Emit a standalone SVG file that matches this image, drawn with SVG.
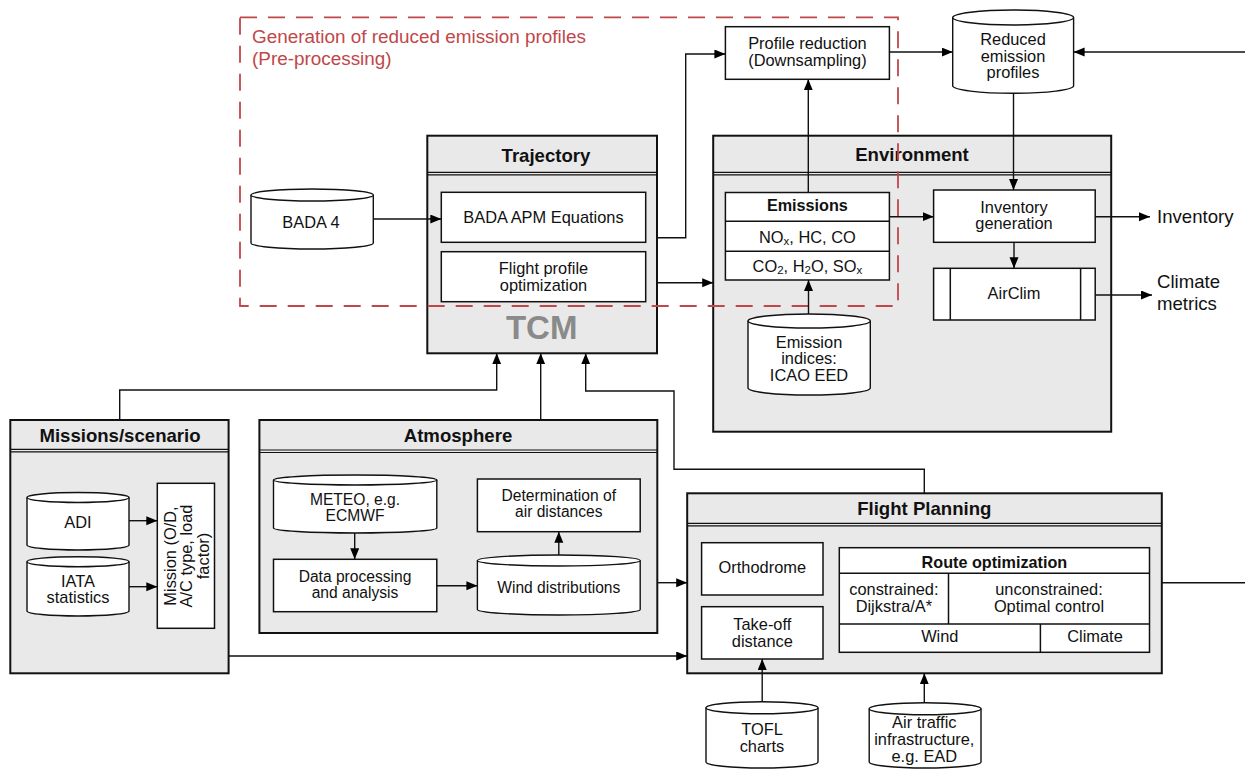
<svg xmlns="http://www.w3.org/2000/svg" width="1245" height="769" viewBox="0 0 1245 769">
<defs>
<marker id="ah" markerUnits="userSpaceOnUse" markerWidth="12" markerHeight="10" refX="11" refY="4.5" orient="auto">
<path d="M0,0 L11,4.5 L0,9 z" fill="#000"/>
</marker>
<style>
text{font-family:"Liberation Sans",Arial,sans-serif;fill:#111}
.t{font-size:16.4px;text-anchor:middle}
.ta{font-size:15.6px;text-anchor:middle}
.tb{font-size:16.2px;font-weight:bold;text-anchor:middle}
.title{font-size:18.6px;font-weight:bold;text-anchor:middle}
.lbl{font-size:18.6px}
.red{font-size:18.9px;fill:#c0474a}
.outer{fill:#e9e9e9;stroke:#111;stroke-width:2}
.hdr{stroke:#111;stroke-width:1.2;fill:none}
.inner{fill:#fff;stroke:#111;stroke-width:1.5}
.cyl{fill:#fff;stroke:#111;stroke-width:1.4}
.con{fill:none;stroke:#111;stroke-width:1.4}
.arr{fill:none;stroke:#111;stroke-width:1.4;marker-end:url(#ah)}
.tcm{font-size:33px;font-weight:bold;fill:#8a8a8a;text-anchor:middle}
</style>
</defs>
<rect width="1245" height="769" fill="#fff"/>

<g id="trajectory">
<rect class="outer" x="427.3" y="135.7" width="229.7" height="217.6"/>
<path class="hdr" d="M427.3,172.3 H657 M427.3,174.8 H657"/>
<text class="title" x="546" y="161.7">Trajectory</text>
<text class="tcm" x="541.7" y="339">TCM</text>
</g>
<g id="bada-apm">
<rect class="inner" x="441.3" y="192.3" width="204.4" height="50"/>
<text class="t" x="543.5" y="222.5">BADA APM Equations</text>
</g>
<g id="flight-profile-opt">
<rect class="inner" x="441.3" y="251.7" width="204.4" height="50"/>
<text class="t" x="543.5" y="274">Flight profile</text>
<text class="t" x="543.5" y="290.5">optimization</text>
</g>

<g id="environment">
<rect class="outer" x="713.2" y="135.7" width="398" height="296"/>
<path class="hdr" d="M713.2,172.3 H1111.2 M713.2,174.8 H1111.2"/>
<text class="title" x="912" y="160.7">Environment</text>
</g>
<g id="emissions">
<rect class="inner" x="725.4" y="192.5" width="164" height="87.5"/>
<path class="hdr" d="M725.4,221.3 H889.4 M725.4,251.3 H889.4" style="stroke-width:1.5"/>
<text class="tb" x="807.4" y="210.7">Emissions</text>
<text class="t" x="807.4" y="242.7">NO<tspan font-size="11.5" dy="2">x</tspan><tspan dy="-2">, HC, CO</tspan></text>
<text class="t" x="807.4" y="271.7">CO<tspan font-size="11.5" dy="2">2</tspan><tspan dy="-2">, H</tspan><tspan font-size="11.5" dy="2">2</tspan><tspan dy="-2">O, SO</tspan><tspan font-size="11.5" dy="2">x</tspan></text>
</g>
<g id="inventory-generation">
<rect class="inner" x="933.6" y="190" width="161.6" height="52.3"/>
<text class="t" x="1014" y="213.3">Inventory</text>
<text class="t" x="1014" y="229.3">generation</text>
</g>
<g id="airclim">
<rect class="inner" x="933.6" y="268.3" width="161.6" height="51.7"/>
<path class="hdr" d="M950.3,268.3 V320 M1080.6,268.3 V320" style="stroke-width:1.5"/>
<text class="t" x="1014" y="299.3">AirClim</text>
</g>
<g id="emission-indices">
<path class="cyl" d="M748,321 V388 A61.15,7 0 0 0 870.3,388 V321"/>
<ellipse class="cyl" cx="809.15" cy="321" rx="61.15" ry="7"/>
<text class="t" x="809" y="348.3">Emission</text>
<text class="t" x="809" y="364">indices:</text>
<text class="t" x="809" y="380.7">ICAO EED</text>
</g>

<g id="profile-reduction">
<rect class="inner" x="725.4" y="26.7" width="164" height="52.6"/>
<text class="t" x="807.4" y="49.3">Profile reduction</text>
<text class="t" x="807.4" y="66">(Downsampling)</text>
</g>
<g id="reduced-profiles">
<path class="cyl" d="M952.7,17.5 V85.8 A60.45,7.5 0 0 0 1073.6,85.8 V17.5"/>
<ellipse class="cyl" cx="1013.15" cy="17.5" rx="60.45" ry="7.5"/>
<text class="t" x="1013" y="45">Reduced</text>
<text class="t" x="1013" y="61.7">emission</text>
<text class="t" x="1013" y="77.7">profiles</text>
</g>
<g id="bada4">
<path class="cyl" d="M251,195 V243 A61.15,6 0 0 0 373.3,243 V195"/>
<ellipse class="cyl" cx="312.15" cy="195" rx="61.15" ry="6"/>
<text class="t" x="311" y="227.7">BADA 4</text>
</g>

<g id="preprocessing">
<rect x="240" y="17.3" width="658" height="288.7" fill="none" stroke="#c0474a" stroke-width="1.8" stroke-dasharray="17 11"/>
<text class="red" x="252" y="43">Generation of reduced emission profiles</text>
<text class="red" x="252" y="65">(Pre-processing)</text>
</g>

<g id="missions">
<rect class="outer" x="10.3" y="420" width="218.3" height="253.3"/>
<path class="hdr" d="M10.3,449.3 H228.6 M10.3,451.8 H228.6"/>
<text class="title" x="120" y="441.7">Missions/scenario</text>
</g>
<g id="adi">
<path class="cyl" d="M27,497.5 V545 A51,5 0 0 0 129,545 V497.5"/>
<ellipse class="cyl" cx="78" cy="497.5" rx="51" ry="5"/>
<text class="t" x="78" y="528.3">ADI</text>
</g>
<g id="iata">
<path class="cyl" d="M27,561.7 V611 A51,5 0 0 0 129,611 V561.7"/>
<ellipse class="cyl" cx="78" cy="561.7" rx="51" ry="5"/>
<text class="t" x="78" y="586.7">IATA</text>
<text class="t" x="78" y="603.3">statistics</text>
</g>
<g id="mission">
<rect class="inner" x="157.3" y="483.3" width="57.2" height="145"/>
<text class="t" style="font-size:16.4px" transform="translate(175.5,556) rotate(-90)">Mission (O/D,</text>
<text class="t" style="font-size:16.4px" transform="translate(192,556) rotate(-90)">A/C type, load</text>
<text class="t" style="font-size:16.4px" transform="translate(208.5,556) rotate(-90)">factor)</text>
</g>

<g id="atmosphere">
<rect class="outer" x="259.4" y="420" width="397.9" height="213"/>
<path class="hdr" d="M259.4,450 H657.3 M259.4,452.5 H657.3"/>
<text class="title" x="458" y="441.7">Atmosphere</text>
</g>
<g id="meteo">
<path class="cyl" d="M273.5,480 V528 A81.65,5 0 0 0 436.8,528 V480"/>
<ellipse class="cyl" cx="355.15" cy="480" rx="81.65" ry="5"/>
<text class="ta" x="355" y="504.5">METEO, e.g.</text>
<text class="ta" x="355" y="520.5">ECMWF</text>
</g>
<g id="data-processing">
<rect class="inner" x="273.5" y="559.3" width="163.3" height="52.4"/>
<text class="ta" x="355" y="582.2">Data processing</text>
<text class="ta" x="355" y="598.2">and analysis</text>
</g>
<g id="wind-distributions">
<path class="cyl" d="M477.4,560.5 V609.5 A81.4,5.5 0 0 0 640.2,609.5 V560.5"/>
<ellipse class="cyl" cx="558.8" cy="560.5" rx="81.4" ry="5.5"/>
<text class="ta" x="558.8" y="593.3">Wind distributions</text>
</g>
<g id="air-distances">
<rect class="inner" x="477.4" y="479" width="162.8" height="52.7"/>
<text class="ta" x="558.8" y="501.2">Determination of</text>
<text class="ta" x="558.8" y="517.2">air distances</text>
</g>

<g id="flight-planning">
<rect class="outer" x="687.2" y="493.3" width="474.6" height="180"/>
<path class="hdr" d="M687.2,523.3 H1161.8 M687.2,525.8 H1161.8"/>
<text class="title" x="924.3" y="515">Flight Planning</text>
</g>
<g id="orthodrome">
<rect class="inner" x="701.6" y="542.7" width="121.4" height="52.3"/>
<text class="t" x="762.3" y="573.3">Orthodrome</text>
</g>
<g id="takeoff">
<rect class="inner" x="701.6" y="606.7" width="121.4" height="52.3"/>
<text class="t" x="762.3" y="630">Take-off</text>
<text class="t" x="762.3" y="646.7">distance</text>
</g>
<g id="route-optimization">
<rect class="inner" x="839.3" y="547.7" width="310.2" height="104.6"/>
<path class="hdr" d="M839.3,573.3 H1149.5 M839.3,624 H1149.5 M948.5,573.3 V624 M1040.4,624 V652.3" style="stroke-width:1.5"/>
<text class="tb" x="994.4" y="568.3">Route optimization</text>
<text class="t" x="893.9" y="595">constrained:</text>
<text class="t" x="893.9" y="611.7">Dijkstra/A*</text>
<text class="t" x="1049" y="595">unconstrained:</text>
<text class="t" x="1049" y="611.7">Optimal control</text>
<text class="t" x="939.8" y="641.7">Wind</text>
<text class="t" x="1095" y="641.7">Climate</text>
</g>
<g id="tofl">
<path class="cyl" d="M706,707.7 V762 A56,6 0 0 0 818,762 V707.7"/>
<ellipse class="cyl" cx="762" cy="707.7" rx="56" ry="6"/>
<text class="t" x="762" y="735">TOFL</text>
<text class="t" x="762" y="751.7">charts</text>
</g>
<g id="air-traffic">
<path class="cyl" d="M869.2,708.7 V762 A55.9,6 0 0 0 981,762 V708.7"/>
<ellipse class="cyl" cx="925.1" cy="708.7" rx="55.9" ry="6"/>
<text class="t" x="924.3" y="728.3">Air traffic</text>
<text class="t" x="924.3" y="745">infrastructure,</text>
<text class="t" x="924.3" y="761.7">e.g. EAD</text>
</g>

<g id="outputs">
<text class="lbl" x="1157" y="223.3">Inventory</text>
<text class="lbl" x="1157" y="288.3">Climate</text>
<text class="lbl" x="1157" y="310">metrics</text>
</g>

<g id="connectors">
<path class="arr" d="M373.3,219 H441.3"/>
<path class="arr" d="M657,237.7 H685.7 V54 H725.4"/>
<path class="arr" d="M657,282.7 H713.2"/>
<path class="arr" d="M889.4,52 H952.7"/>
<path class="arr" d="M1245,52 H1073.6"/>
<path class="arr" d="M808.3,192.5 V79.3"/>
<path class="arr" d="M889.4,216.7 H933.6"/>
<path class="arr" d="M1013.5,93.3 V190"/>
<path class="arr" d="M1014,242.3 V268.3"/>
<path class="arr" d="M1095.2,216.7 H1150"/>
<path class="arr" d="M1095.2,295 H1152"/>
<path class="arr" d="M808.5,314 V280"/>
<path class="arr" d="M119.7,420 V390 H496.7 V353.3"/>
<path class="arr" d="M540.7,420 V353.3"/>
<path class="arr" d="M924.3,493.3 V469.3 H674 V391 H585.7 V353.3"/>
<path class="arr" d="M129,520.7 H157.3"/>
<path class="arr" d="M129,586.7 H157.3"/>
<path class="arr" d="M354.7,533 V559.3"/>
<path class="arr" d="M436.8,585.7 H477.4"/>
<path class="arr" d="M558.8,555 V531.7"/>
<path class="arr" d="M657.3,582.7 H687.2"/>
<path class="arr" d="M228.6,656 H687.2"/>
<path class="con" d="M1161.8,582.7 H1245"/>
<path class="arr" d="M762.2,701.7 V659"/>
<path class="arr" d="M924.3,702.7 V673.3"/>
</g>
</svg>
